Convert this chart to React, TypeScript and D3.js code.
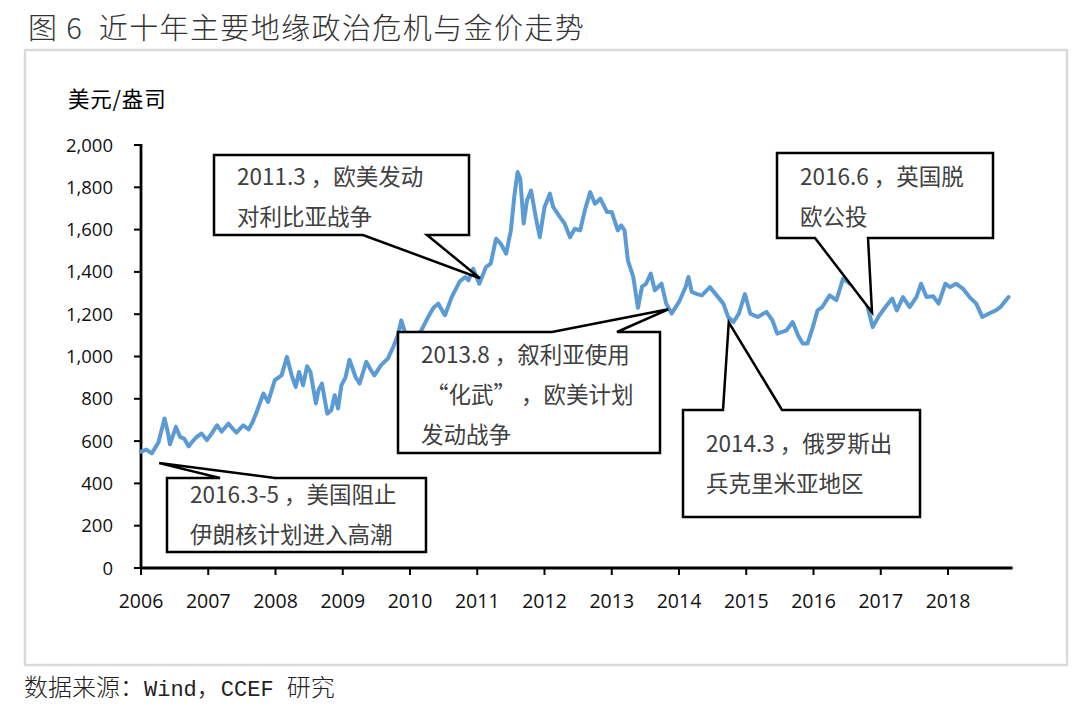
import React from "react";
import * as d3 from "d3";

// ---- Data ----
const dates: number[] = [
  2006.0, 2006.08, 2006.16, 2006.26, 2006.35, 2006.4, 2006.43, 2006.52, 2006.58, 2006.64,
  2006.71, 2006.77, 2006.83, 2006.9, 2006.98, 2007.06, 2007.13, 2007.2, 2007.3, 2007.36,
  2007.42, 2007.52, 2007.6, 2007.66, 2007.72, 2007.82, 2007.89, 2007.99, 2008.09, 2008.17,
  2008.24, 2008.3, 2008.35, 2008.41, 2008.47, 2008.52, 2008.6, 2008.64, 2008.69, 2008.77,
  2008.83, 2008.88, 2008.93, 2008.98, 2009.04, 2009.1, 2009.19, 2009.25, 2009.35, 2009.42,
  2009.47, 2009.57, 2009.67, 2009.75, 2009.82, 2009.87, 2009.93, 2009.97, 2010.04, 2010.1,
  2010.17, 2010.27, 2010.35, 2010.42, 2010.52, 2010.62, 2010.74, 2010.82, 2010.87, 2010.94,
  2011.03, 2011.13, 2011.2, 2011.28, 2011.35, 2011.43, 2011.5, 2011.55, 2011.6, 2011.64,
  2011.69, 2011.74, 2011.8, 2011.87, 2011.93, 2012.0, 2012.08, 2012.13, 2012.23, 2012.3,
  2012.38, 2012.45, 2012.53, 2012.6, 2012.68, 2012.75, 2012.83, 2012.93, 2013.0, 2013.09,
  2013.14, 2013.19, 2013.24, 2013.32, 2013.39, 2013.45, 2013.51, 2013.58, 2013.64, 2013.74,
  2013.81, 2013.89, 2014.0, 2014.1, 2014.14, 2014.19, 2014.27, 2014.34, 2014.46, 2014.56,
  2014.66, 2014.73, 2014.81, 2014.89, 2014.98, 2015.06, 2015.17, 2015.3, 2015.39, 2015.46,
  2015.6, 2015.69, 2015.77, 2015.84, 2015.91, 2015.99, 2016.06, 2016.13, 2016.24, 2016.34,
  2016.44, 2016.54, 2016.63, 2016.71, 2016.78, 2016.88, 2016.98, 2017.07, 2017.17, 2017.24,
  2017.33, 2017.43, 2017.53, 2017.6, 2017.68, 2017.78, 2017.86, 2017.96, 2018.03, 2018.12,
  2018.22, 2018.32, 2018.42, 2018.51, 2018.61, 2018.71, 2018.78, 2018.9,
];
const prices: number[] = [
  550, 560, 542, 595, 707, 640, 585, 667, 620, 612,
  575, 600, 620, 636, 605, 640, 675, 645, 683, 660,
  640, 675, 655, 690, 738, 825, 785, 888, 911, 998,
  911, 856, 927, 864, 954, 927, 778, 841, 872, 730,
  746, 817, 754, 864, 900, 985, 903, 872, 975, 935,
  911, 959, 990, 1045, 1100, 1171, 1110, 1108, 1069, 1100,
  1124, 1187, 1230, 1250, 1195, 1281, 1355, 1376, 1360, 1415,
  1344, 1423, 1439, 1557, 1533, 1486, 1596, 1754, 1872, 1840,
  1629, 1738, 1785, 1659, 1564, 1706, 1770, 1706, 1659, 1628,
  1564, 1604, 1596, 1691, 1777, 1722, 1746, 1683, 1683, 1596,
  1620, 1596, 1455, 1376, 1230, 1330, 1344, 1392, 1313, 1344,
  1250, 1203, 1258, 1330, 1376, 1305, 1295, 1289, 1328, 1289,
  1250, 1187, 1163, 1203, 1295, 1203, 1187, 1211, 1171, 1108,
  1124, 1163, 1100, 1061, 1061, 1139, 1218, 1234, 1289, 1266,
  1368, 1344, 1336, 1281, 1266, 1139, 1195, 1234, 1274, 1218,
  1281, 1234, 1281, 1344, 1281, 1285, 1250, 1344, 1328, 1344,
  1321, 1281, 1250, 1187, 1203, 1218, 1234, 1281,
];
const yTicks: number[] = [0, 200, 400, 600, 800, 1000, 1200, 1400, 1600, 1800, 2000];
const xYears: number[] = [2006, 2007, 2008, 2009, 2010, 2011, 2012, 2013, 2014, 2015, 2016, 2017, 2018];

const titleText = "图 6  近十年主要地缘政治危机与金价走势";
const unitText = "美元/盎司";

// annotation texts and the point (date, price) each one points at
const noteLines: string[][] = [
  ["2011.3 ，欧美发动", "对利比亚战争"],
  ["2013.8 ，叙利亚使用", " “化武” ，欧美计划", "发动战争"],
  ["2016.3-5 ，美国阻止", "伊朗核计划进入高潮"],
  ["2014.3 ，俄罗斯出", "兵克里米亚地区"],
  ["2016.6 ，英国脱", "欧公投"],
];
const noteDates: number[] = [2011.04, 2013.84, 2006.27, 2014.74, 2016.87];
const notePrices: number[] = [1370, 1223, 496, 1162, 1209];

// ---- Layout ----
const W = 1080;
const H = 710;
const X0 = 141;
const YEAR_PX = 67.25;
const Y_TOP = 145;
const Y_BOT = 568;

const boxes = [
  { l: 214, t: 155, r: 469, b: 235, a: 363, c: 427, side: "bottom" },
  { l: 398, t: 332, r: 660, b: 453, a: 552, c: 617, side: "top" },
  { l: 167, t: 478, r: 426, b: 552, a: 220, c: 275, side: "top" },
  { l: 683, t: 410, r: 920, b: 517, a: 723, c: 782, side: "top" },
  { l: 777, t: 153, r: 993, b: 238, a: 815, c: 868, side: "bottom" },
];
const firstBaseline = [185, 363, 503, 452, 185];
const LINE_GAP = 40;

const CJK = "'Noto Sans CJK SC', 'Noto Sans', sans-serif";
const NUM = "'Open Sans', 'Noto Sans', sans-serif";
const MONO = "'Liberation Mono', 'DejaVu Sans Mono', monospace";

export default function App() {
  const x = d3.scaleLinear().domain([2006, 2019]).range([X0, X0 + 13 * YEAR_PX]);
  const y = d3.scaleLinear().domain([0, 2000]).range([Y_BOT, Y_TOP]);
  const xEnd = x(2018.96);

  const series = dates.map((d, i) => [d, prices[i]] as [number, number]);
  const line = d3
    .line<[number, number]>()
    .x((d) => x(d[0]))
    .y((d) => y(d[1]))
    .curve(d3.curveLinear);

  const calloutPath = (i: number) => {
    const bx = boxes[i];
    const tx = x(noteDates[i]);
    const ty = y(notePrices[i]);
    if (bx.side === "bottom") {
      return `M${bx.l},${bx.t}H${bx.r}V${bx.b}H${bx.c}L${tx},${ty}L${bx.a},${bx.b}H${bx.l}Z`;
    }
    return `M${bx.l},${bx.t}H${bx.a}L${tx},${ty}L${bx.c},${bx.t}H${bx.r}V${bx.b}H${bx.l}Z`;
  };

  return (
    <svg
      width={W}
      height={H}
      style={{ position: "absolute", left: 0, top: 0, background: "#fff" }}
    >
      <rect x={0} y={0} width={W} height={H} fill="#fff" />
      <text
        x={28}
        y={39}
        fontFamily={CJK}
        fontSize={29}
        fontWeight={300}
        letterSpacing={1.4}
        fill="#333"
        style={{ whiteSpace: "pre" }}
      >
        {titleText}
      </text>
      <rect x={25} y={50} width={1042} height={615} fill="#fff" stroke="#d9d9d9" strokeWidth={2.5} />

      <text x={68} y={107} fontFamily={CJK} fontSize={21.5} letterSpacing={0.8} fill="#000">
        {unitText}
      </text>

      {/* y axis */}
      {yTicks.map((t) => (
        <g key={t}>
          <line x1={X0 - 7} x2={X0} y1={y(t)} y2={y(t)} stroke="#000" strokeWidth={2} />
          <text
            x={X0 - 28}
            y={y(t) + 6.5}
            textAnchor="end"
            fontFamily={NUM}
            fontSize={18.5}
            fill="#111"
          >
            {d3.format(",")(t)}
          </text>
        </g>
      ))}
      <line x1={X0} x2={X0} y1={Y_TOP - 1} y2={Y_BOT} stroke="#000" strokeWidth={2.8} />

      {/* x axis */}
      {xYears.map((yr) => (
        <g key={yr}>
          <line x1={x(yr)} x2={x(yr)} y1={Y_BOT} y2={Y_BOT + 7} stroke="#000" strokeWidth={2} />
          <text
            x={x(yr)}
            y={Y_BOT + 40}
            textAnchor="middle"
            fontFamily={NUM}
            fontSize={19.5}
            fill="#111"
          >
            {yr}
          </text>
        </g>
      ))}
      <line x1={X0 - 1} x2={xEnd} y1={Y_BOT} y2={Y_BOT} stroke="#000" strokeWidth={2.8} />

      {/* price line */}
      <path
        d={line(series) || ""}
        fill="none"
        stroke="#5B9BD5"
        strokeWidth={4}
        strokeLinejoin="round"
        strokeLinecap="round"
      />

      {/* callouts */}
      {noteLines.map((lines, i) => (
        <g key={i}>
          <path d={calloutPath(i)} fill="#fff" stroke="#000" strokeWidth={2.5} strokeLinejoin="miter" />
          {lines.map((s, j) => (
            <text
              key={j}
              x={boxes[i].l + 23}
              y={firstBaseline[i] + j * LINE_GAP}
              fontFamily={CJK}
              fontSize={22.5}
              fill="#404040"
              style={{ whiteSpace: "pre" }}
            >
              {s}
            </text>
          ))}
        </g>
      ))}

      <text x={24} y={696} fontFamily={CJK} fontSize={24} fontWeight={300} fill="#222" style={{ whiteSpace: "pre" }}>
        数据来源：
        <tspan fontFamily={MONO} fontSize={22}>Wind</tspan>
        ，
        <tspan fontFamily={MONO} fontSize={22}>CCEF </tspan>
        研究
      </text>
    </svg>
  );
}
